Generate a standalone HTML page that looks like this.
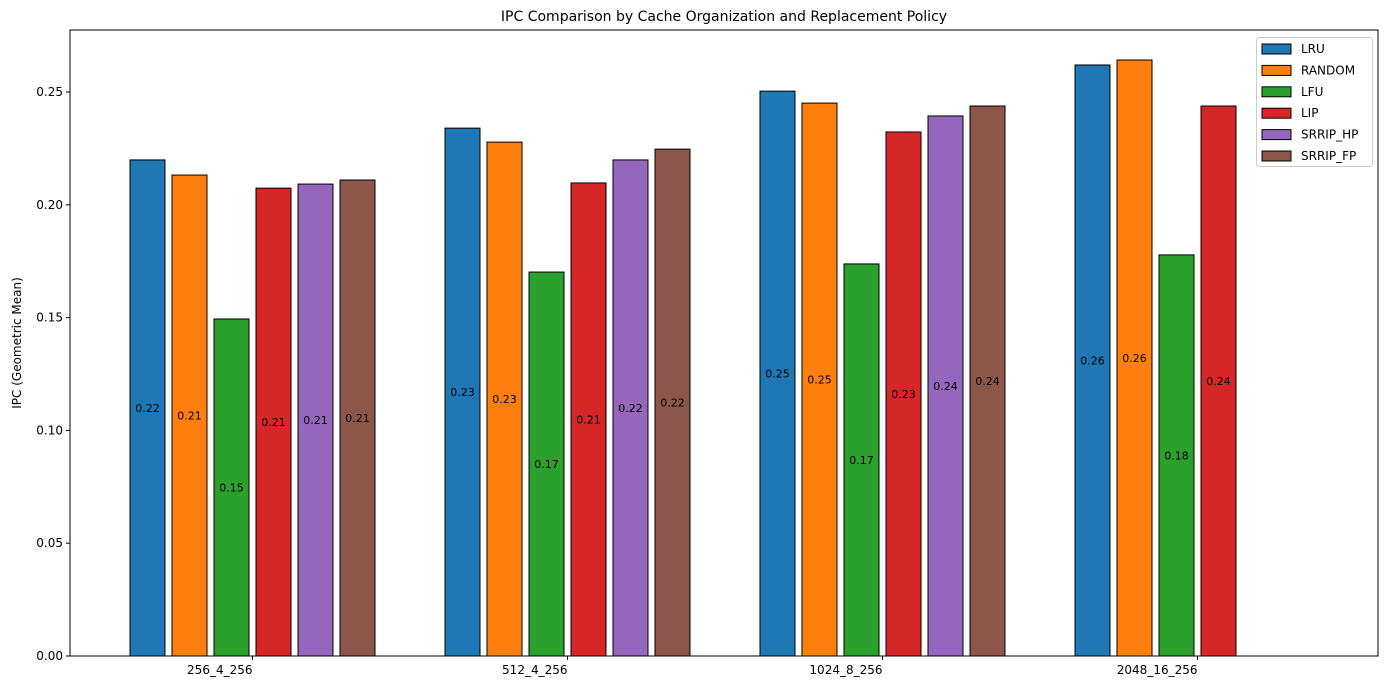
<!DOCTYPE html>
<html><head><meta charset="utf-8"><style>
body{margin:0;background:#fff;font-family:"Liberation Sans","DejaVu Sans",sans-serif}
svg text{font-family:"DejaVu Sans","Liberation Sans",sans-serif}
</style></head><body>
<svg id="chart" width="1389" height="690" xmlns="http://www.w3.org/2000/svg">
<text x="724" y="21" font-size="14" text-anchor="middle">IPC Comparison by Cache Organization and Replacement Policy</text>
<text transform="translate(21,343) rotate(-90)" font-size="12" text-anchor="middle">IPC (Geometric Mean)</text>
<g id="bars"></g><g id="axes"></g><g id="legend"></g>
</svg>
<script>
const categories=["256_4_256","512_4_256","1024_8_256","2048_16_256"];
const policies=["LRU","RANDOM","LFU","LIP","SRRIP_HP","SRRIP_FP"];
const colors=["#1f77b4","#ff7f0e","#2ca02c","#d62728","#9467bd","#8c564b"];
const LRU=[0.2199,0.2340,0.2504,0.2620];
const RANDOM=[0.2132,0.2278,0.2451,0.2642];
const LFU=[0.1494,0.1702,0.1738,0.1778];
const LIP=[0.2074,0.2097,0.2323,0.2438];
const SRRIP_HP=[0.2092,0.2199,0.2394,0];
const SRRIP_FP=[0.2110,0.2247,0.2438,0];
const yTicks=[0,0.05,0.10,0.15,0.20,0.25];
const series=[LRU,RANDOM,LFU,LIP,SRRIP_HP,SRRIP_FP];
const NS="http://www.w3.org/2000/svg";
const L=70,R=1378,T=30,B=656,yMax=0.2775;
const y=v=>B-v/yMax*(B-T);
const xc=i=>252.5+i*315;
function mk(tag,attrs,parent,txt){const e=document.createElementNS(NS,tag);for(const k in attrs)e.setAttribute(k,attrs[k]);if(txt!==undefined)e.textContent=txt;parent.appendChild(e);return e;}
const gb=document.getElementById('bars'),ga=document.getElementById('axes'),gl=document.getElementById('legend');
series.forEach((s,j)=>{s.forEach((v,i)=>{
 const x=xc(i)+(j-2.5)*42-17.5;
 const r=mk('rect',{x:x,y:y(v),width:35,height:B-y(v),fill:colors[j],stroke:'#000','stroke-width':1},gb);
 
 
 if(v>0){const t=mk('text',{x:x+17.5,y:y(v/2)+4,'font-size':11,'text-anchor':'middle'},gb,v.toFixed(2));
 
 }
});});
const fr=mk('rect',{x:L,y:T,width:R-L,height:B-T,fill:'none',stroke:'#000','stroke-width':1},ga);


yTicks.forEach(v=>{mk('line',{x1:L-4,x2:L,y1:y(v),y2:y(v),stroke:'#000'},ga);
 const t=mk('text',{x:L-7,y:y(v)+4,'font-size':12,'text-anchor':'end'},ga,v.toFixed(2));
 
 });
categories.forEach((c,i)=>{mk('line',{x1:xc(i),x2:xc(i),y1:B,y2:B+4,stroke:'#000'},ga);
 const t=mk('text',{x:xc(i),y:B+18,'font-size':12,'text-anchor':'end'},ga,c);
 
 });
const lb=mk('rect',{x:1256.5,y:37.5,width:116,height:129,rx:3,fill:'#fff',stroke:'#ccc'},gl);


policies.forEach((p,j)=>{const yy=49+j*21.4;
 const r=mk('rect',{x:1262,y:yy-5,width:29,height:10,fill:colors[j],stroke:'#000'},gl);
 
 
 const t=mk('text',{x:1301,y:yy+4,'font-size':12},gl,p);
 
 });
</script>
</body></html>
